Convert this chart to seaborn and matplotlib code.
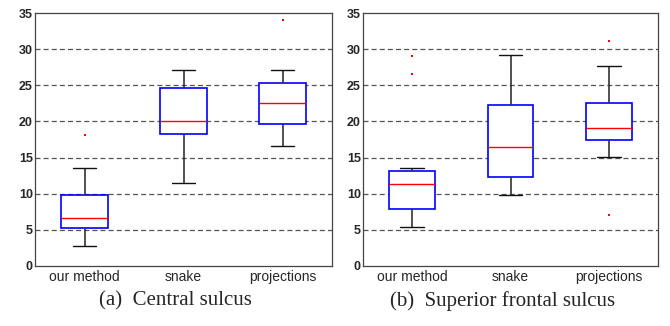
import matplotlib
matplotlib.use("Agg")
import numpy as np
import pandas as pd
import seaborn as sns
import matplotlib.pyplot as plt

methods = ["our method", "snake", "projections"]

# (a) Central sulcus: box summaries
a_low = [2.8, 11.5, 16.6]
a_q1 = [5.3, 18.2, 19.6]
a_median = [6.6, 20.0, 22.5]
a_q3 = [9.8, 24.6, 25.3]
a_high = [13.5, 27.1, 27.1]
a_outlier_method = ["our method", "projections"]
a_outlier_value = [18.1, 34.0]

# (b) Superior frontal sulcus
b_low = [5.4, 9.8, 15.1]
b_q1 = [7.9, 12.3, 17.5]
b_median = [11.4, 16.5, 19.1]
b_q3 = [13.1, 22.3, 22.5]
b_high = [13.6, 29.2, 27.6]
b_outlier_method = ["our method", "our method", "projections", "projections"]
b_outlier_value = [26.5, 29.0, 31.1, 7.0]

captions = ["(a)  Central sulcus", "(b)  Superior frontal sulcus"]
yticks = [0, 5, 10, 15, 20, 25, 30, 35]


def summary_frame(low, q1, med, q3, high):
    rows = []
    for m, *vals in zip(methods, low, q1, med, q3, high):
        for v in vals:
            rows.append({"method": m, "value": v})
    return pd.DataFrame(rows)


sns.set_theme(style="white")
plt.rcParams["font.family"] = ["Liberation Sans", "DejaVu Sans"]

fig = plt.figure(figsize=(6.7, 3.26), dpi=100)
axes = [fig.add_axes([35 / 670, 60 / 326, 297 / 670, 253 / 326]),
        fig.add_axes([363 / 670, 60 / 326, 295 / 670, 253 / 326])]

panels = [
    (summary_frame(a_low, a_q1, a_median, a_q3, a_high),
     pd.DataFrame({"method": a_outlier_method, "value": a_outlier_value})),
    (summary_frame(b_low, b_q1, b_median, b_q3, b_high),
     pd.DataFrame({"method": b_outlier_method, "value": b_outlier_value})),
]

for ax, (box_df, out_df), cap, cx in zip(axes, panels, captions, [175, 503]):
    for y in yticks[1:-1]:
        ax.axhline(y, color="#555555", lw=0.9, ls=(0, (4, 2.5)), zorder=0)
    sns.boxplot(data=box_df, x="method", y="value", order=methods, ax=ax,
                whis=(0, 100), showfliers=False, width=0.465, linewidth=1.0,
                boxprops=dict(facecolor="white", edgecolor="#0000ff", linewidth=1.2),
                medianprops=dict(color="#ff0000", linewidth=1.0),
                whiskerprops=dict(color="#333333", linewidth=1.2),
                capprops=dict(color="#111111", linewidth=1.0),
                capwidths=0.24)
    sns.stripplot(data=out_df, x="method", y="value", order=methods, ax=ax,
                  jitter=False, color="#ff0000", size=2.0, marker="s",
                  linewidth=0, zorder=5)
    ax.set_xlim(-0.5, 2.5)
    ax.set_ylim(0, 35)
    ax.set_yticks(yticks)
    ax.set_yticklabels([str(t) for t in yticks], fontsize=9, fontweight="bold")
    ax.set_xticks(range(len(methods)))
    ax.set_xticklabels(methods, fontsize=10)
    ax.tick_params(length=0, pad=1.5)
    ax.tick_params(axis="x", pad=3)
    ax.set_xlabel("")
    ax.set_ylabel("")
    for s in ax.spines.values():
        s.set_color("#444444")
        s.set_linewidth(0.9)
        s.set_visible(True)
    fig.text(cx / 670, 1 - 301 / 326, cap, ha="center", va="center",
             fontsize=15, family=["Liberation Serif", "DejaVu Serif"])

fig.savefig("out.png", dpi=100)
